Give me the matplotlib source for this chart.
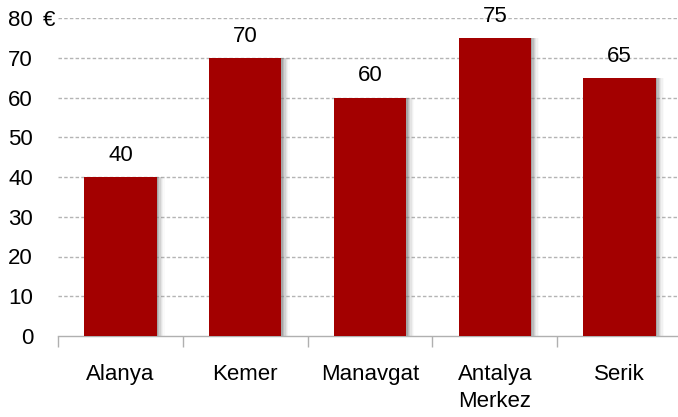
import matplotlib.pyplot as plt
import numpy as np

# data
cities = ["Alanya", "Kemer", "Manavgat", "Antalya\nMerkez", "Serik"]
prices = [40, 70, 60, 75, 65]
y_ticks = [0, 10, 20, 30, 40, 50, 60, 70, 80]

bar_color = "#a30000"
plt.rcParams["font.family"] = "Liberation Sans"
fs = 16

fig = plt.figure(figsize=(6.78, 4.17), dpi=100)
ax = fig.add_axes([58 / 678, 81 / 417, 624 / 678, 318 / 417])

x = np.arange(len(cities))
w = 0.58

# soft shadow on the right side of the bars
for k, a in enumerate([0.35, 0.25, 0.17, 0.11, 0.07, 0.04]):
    off = (k + 1) * 0.011
    ax.bar(x + off, prices, width=w, color="#808080", alpha=a, linewidth=0, zorder=2)

ax.bar(x, prices, width=w, color=bar_color, linewidth=0, zorder=3)

for xi, v in zip(x, prices):
    ax.annotate(str(v), (xi, v), xytext=(0, 8), textcoords="offset points",
                ha="center", va="bottom", fontsize=fs, color="black")

ax.set_xlim(-0.5, len(cities) - 0.5)
ax.set_ylim(0, 80)
ax.set_yticks(y_ticks)
ax.set_yticklabels([str(t) for t in y_ticks], fontsize=fs)
ax.tick_params(axis="y", length=0, pad=18)
ax.annotate("€", (0, 80), xycoords=("axes fraction", "data"), xytext=(-9, 0),
            textcoords="offset pixels", ha="center", va="center_baseline",
            fontsize=fs)

# category ticks at boundaries, labels at centres
ax.set_xticks(np.arange(-0.5, len(cities), 1.0))
ax.set_xticklabels([])
ax.set_xticks(x, minor=True)
ax.set_xticklabels(cities, minor=True, fontsize=fs, linespacing=1.4)
ax.tick_params(axis="x", which="major", length=8, color="#b0b0b0", width=1)
ax.tick_params(axis="x", which="minor", length=0, pad=20)

for t in y_ticks[1:]:
    ax.axhline(t, color="#b4b4b4", linestyle=(0, (2.5, 1.6)), linewidth=1, zorder=1)

for s in ["top", "right", "left"]:
    ax.spines[s].set_visible(False)
ax.spines["bottom"].set_color("#b0b0b0")
ax.spines["bottom"].set_linewidth(1)

fig.savefig("out.png", dpi=100)
